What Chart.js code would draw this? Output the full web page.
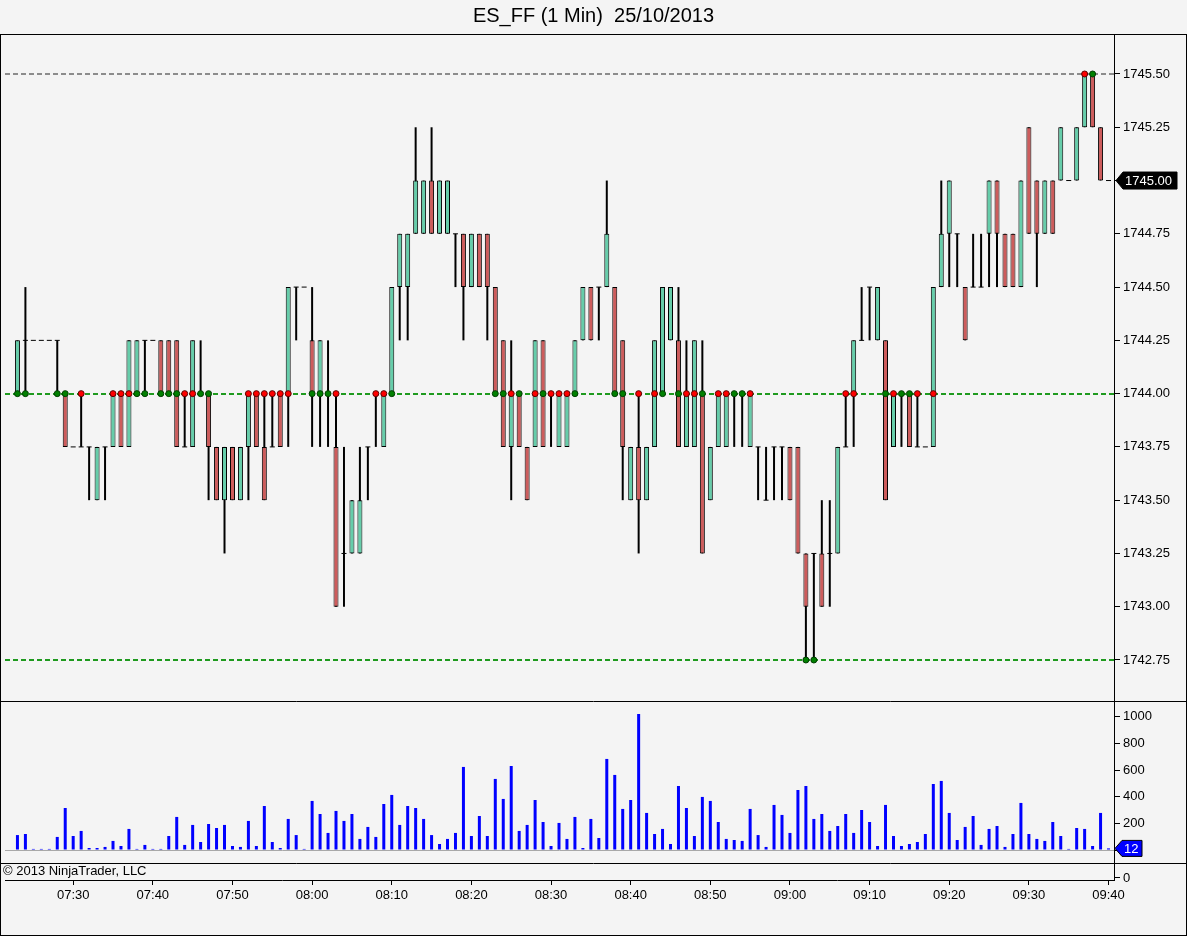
<!DOCTYPE html>
<html>
<head>
<meta charset="utf-8">
<title>ES_FF (1 Min) 25/10/2013</title>
<script src="https://cdn.jsdelivr.net/npm/chart.js@4.4.1/dist/chart.umd.min.js"></script>
<style>
  html, body { margin: 0; padding: 0; background: #f4f4f4; }
  #wrap { position: relative; width: 1187px; height: 936px; }
</style>
</head>
<body>
<div id="wrap"><canvas id="esChart"></canvas></div>
<script>
// Time axis: one bar per minute, first bar 07:23, last bar 09:40
const timeTickBars = [7, 17, 27, 37, 47, 57, 67, 77, 87, 97, 107, 117, 127, 137];
const timeTickLabels = ['07:30', '07:40', '07:50', '08:00', '08:10', '08:20', '08:30',
                        '08:40', '08:50', '09:00', '09:10', '09:20', '09:30', '09:40'];

// OHLC of the 138 one-minute bars
const opens = [
  1744.00,1744.25,1744.25,1744.25,1744.25,1744.25,1744.00,1743.75,1743.75,1743.75,
  1743.50,1743.75,1743.75,1744.00,1743.75,1744.00,1744.25,1744.25,1744.25,1744.25,
  1744.25,1743.75,1743.75,1744.00,1744.00,1743.75,1743.50,1743.75,1743.50,1743.75,
  1744.00,1743.75,1743.75,1744.00,1744.00,1744.50,1744.50,1744.25,1744.00,1744.00,
  1743.75,1743.25,1743.25,1743.25,1743.75,1744.00,1743.75,1744.00,1744.50,1744.50,
  1744.75,1744.75,1745.00,1744.75,1744.75,1744.75,1744.75,1744.50,1744.75,1744.75,
  1744.50,1744.25,1743.75,1744.00,1743.75,1743.75,1744.25,1744.00,1743.75,1743.75,
  1744.00,1744.25,1744.50,1744.50,1744.50,1744.50,1744.25,1743.50,1743.75,1743.50,
  1743.75,1744.00,1744.25,1744.25,1743.75,1743.75,1744.00,1743.50,1743.75,1743.75,
  1744.00,1744.00,1743.75,1743.75,1743.50,1743.75,1743.75,1743.75,1743.75,1743.25,
  1743.25,1743.25,1743.25,1743.25,1743.75,1744.00,1744.25,1744.50,1744.25,1744.25,
  1743.75,1744.00,1744.00,1743.75,1743.75,1743.75,1744.50,1744.75,1744.75,1744.50,
  1744.50,1744.50,1744.75,1745.00,1744.75,1744.75,1744.50,1745.25,1745.00,1744.75,
  1745.00,1745.00,1745.00,1745.00,1745.25,1745.50,1745.25,1745.00
];
const highs = [
  1744.25,1744.50,1744.25,1744.25,1744.25,1744.25,1744.00,1743.75,1744.00,1743.75,
  1743.75,1743.75,1744.00,1744.00,1744.25,1744.25,1744.25,1744.25,1744.25,1744.25,
  1744.25,1744.00,1744.25,1744.25,1744.00,1743.75,1743.75,1743.75,1743.75,1744.00,
  1744.00,1744.00,1744.00,1744.00,1744.50,1744.50,1744.50,1744.50,1744.25,1744.25,
  1744.00,1743.75,1743.50,1743.75,1743.75,1744.00,1744.00,1744.50,1744.75,1744.75,
  1745.25,1745.00,1745.25,1745.00,1745.00,1744.75,1744.75,1744.75,1744.75,1744.75,
  1744.50,1744.25,1744.25,1744.00,1743.75,1744.25,1744.25,1744.00,1744.00,1744.00,
  1744.25,1744.50,1744.50,1744.50,1745.00,1744.50,1744.25,1743.75,1744.00,1743.75,
  1744.25,1744.50,1744.50,1744.50,1744.25,1744.25,1744.25,1743.75,1744.00,1744.00,
  1744.00,1744.00,1744.00,1743.75,1743.75,1743.75,1743.75,1743.75,1743.75,1743.25,
  1743.25,1743.50,1743.50,1743.75,1744.00,1744.25,1744.50,1744.50,1744.50,1744.25,
  1744.00,1744.00,1744.00,1744.00,1743.75,1744.50,1745.00,1745.00,1744.75,1744.50,
  1744.75,1744.75,1745.00,1745.00,1744.75,1744.75,1745.00,1745.25,1745.00,1745.00,
  1745.00,1745.25,1745.00,1745.25,1745.50,1745.50,1745.25,1745.00
];
const lows = [
  1744.00,1744.00,1744.25,1744.25,1744.25,1744.00,1743.75,1743.75,1743.75,1743.50,
  1743.50,1743.50,1743.75,1743.75,1743.75,1744.00,1744.00,1744.25,1744.00,1744.00,
  1743.75,1743.75,1743.75,1744.00,1743.50,1743.50,1743.25,1743.50,1743.50,1743.50,
  1743.75,1743.50,1743.75,1743.75,1743.75,1744.25,1744.50,1743.75,1743.75,1743.75,
  1743.00,1743.00,1743.25,1743.25,1743.50,1743.75,1743.75,1744.00,1744.25,1744.25,
  1744.75,1744.75,1744.75,1744.75,1744.75,1744.50,1744.25,1744.50,1744.50,1744.25,
  1744.00,1743.75,1743.50,1743.75,1743.50,1743.75,1743.75,1743.75,1743.75,1743.75,
  1744.00,1744.25,1744.25,1744.25,1744.50,1744.00,1743.50,1743.50,1743.25,1743.50,
  1743.75,1744.00,1744.25,1743.75,1743.75,1743.75,1743.25,1743.50,1743.75,1743.75,
  1743.75,1743.75,1743.75,1743.50,1743.50,1743.50,1743.50,1743.50,1743.25,1742.75,
  1742.75,1743.00,1743.00,1743.25,1743.75,1743.75,1744.25,1744.25,1744.25,1743.50,
  1743.75,1743.75,1743.75,1743.75,1743.75,1743.75,1744.50,1744.50,1744.50,1744.25,
  1744.50,1744.50,1744.50,1744.50,1744.50,1744.50,1744.50,1744.75,1744.50,1744.75,
  1744.75,1745.00,1745.00,1745.00,1745.25,1745.25,1745.00,1745.00
];
const closes = [
  1744.25,1744.25,1744.25,1744.25,1744.25,1744.25,1743.75,1743.75,1743.75,1743.75,
  1743.75,1743.75,1744.00,1743.75,1744.25,1744.25,1744.25,1744.25,1744.00,1744.00,
  1743.75,1743.75,1744.25,1744.00,1743.75,1743.50,1743.75,1743.50,1743.75,1744.00,
  1743.75,1743.50,1743.75,1743.75,1744.50,1744.50,1744.50,1744.00,1744.25,1744.00,
  1743.00,1743.25,1743.50,1743.50,1743.75,1744.00,1744.00,1744.50,1744.75,1744.75,
  1745.00,1745.00,1744.75,1745.00,1745.00,1744.75,1744.50,1744.75,1744.50,1744.50,
  1744.00,1743.75,1744.00,1743.75,1743.50,1744.25,1743.75,1744.00,1744.00,1744.00,
  1744.25,1744.50,1744.25,1744.50,1744.75,1744.00,1743.75,1743.75,1743.50,1743.75,
  1744.25,1744.50,1744.50,1743.75,1744.00,1744.25,1743.25,1743.75,1744.00,1744.00,
  1744.00,1744.00,1744.00,1743.75,1743.50,1743.75,1743.75,1743.50,1743.25,1743.00,
  1743.25,1743.00,1743.25,1743.75,1743.75,1744.25,1744.25,1744.50,1744.50,1743.50,
  1744.00,1744.00,1743.75,1743.75,1743.75,1744.50,1744.75,1745.00,1744.75,1744.25,
  1744.50,1744.50,1745.00,1744.75,1744.50,1744.50,1745.00,1744.75,1744.75,1745.00,
  1744.75,1745.25,1745.00,1745.25,1745.50,1745.25,1745.00,1745.00
];

// Volume per bar
const volumes = [
  112,120,8,8,8,98,315,105,143,15,
  15,23,68,30,158,8,38,8,8,105,
  248,38,188,60,195,165,188,30,23,218,
  30,330,60,15,233,112,8,368,270,128,
  293,218,270,83,173,98,345,413,188,330,
  315,233,112,45,83,128,623,105,255,105,
  533,383,630,143,188,375,210,30,203,83,
  248,15,233,90,683,563,308,375,1020,278,
  120,158,45,480,315,105,398,368,210,83,
  75,68,308,112,23,338,263,128,450,480,
  233,270,143,180,270,128,300,210,30,338,
  105,30,45,60,120,495,518,278,75,173,
  255,38,158,180,23,120,353,120,83,68,
  210,105,8,165,158,30,278,12
];

// Horizontal levels (session high, pivot, session low) and touch markers
const levelPrices = [1745.50, 1744.00, 1742.75];
const levelColors = ['#8c8c8c', '#1f9a1f', '#1f9a1f'];
const greenDots = [0,1,5,6,15,16,18,19,20,23,24,37,38,39,47,60,61,63,66,70,75,76,81,83,86,90,91,99,100,109,111,112,135];
const redDots = [8,12,13,14,21,22,29,30,31,32,33,34,40,45,46,62,65,67,68,69,78,80,84,85,88,89,92,104,105,110,113,115,134];

// Axis ticks
const priceTicks = [1742.75,1743.00,1743.25,1743.50,1743.75,1744.00,1744.25,1744.50,1744.75,1745.00,1745.25,1745.50];
const volumeTicks = [0, 200, 400, 600, 800, 1000];

const upColor = '#66cdaa';
const downColor = '#cd5c5c';
const fontFamily = '"Liberation Sans", Arial, sans-serif';

// Build datasets from the arrays
const wickData = [];
const bodyData = [];
const dojiData = [];
const volumeData = [];
for (let i = 0; i < opens.length; i++) {
    wickData.push({ x: i, y: [lows[i], highs[i]] });
    if (opens[i] === closes[i]) {
        dojiData.push({ x: i, y: opens[i] });
    } else {
        bodyData.push({ x: i, y: [opens[i], closes[i]], up: closes[i] > opens[i] });
    }
    volumeData.push({ x: i, y: volumes[i] });
}

function levelFor(i) {
    return levelPrices.find(p => lows[i] <= p && p <= highs[i]);
}
const dotData = [];
greenDots.forEach(i => dotData.push({ x: i, y: levelFor(i), g: true }));
redDots.forEach(i => dotData.push({ x: i, y: levelFor(i), g: false }));

// Tag on the right axis (last price / last volume)
function drawTag(ctx, x, y, w, h, fill, text) {
    ctx.beginPath();
    ctx.moveTo(x, y);
    ctx.lineTo(x + 7, y - h / 2);
    ctx.lineTo(x + w, y - h / 2);
    ctx.lineTo(x + w, y + h / 2);
    ctx.lineTo(x + 7, y + h / 2);
    ctx.closePath();
    ctx.fillStyle = fill;
    ctx.fill();
    ctx.lineWidth = 1;
    ctx.strokeStyle = '#000';
    ctx.stroke();
    ctx.fillStyle = '#fff';
    ctx.font = '13px ' + fontFamily;
    ctx.textAlign = 'left';
    ctx.textBaseline = 'middle';
    ctx.fillText(text, x + 9, y + 1);
}

const panelPlugin = {
    id: 'panelPlugin',
    beforeDatasetsDraw(chart) {
        const ctx = chart.ctx;
        const area = chart.chartArea;
        const y = chart.scales.y;
        const yv = chart.scales.yv;
        ctx.save();
        // dashed level lines
        ctx.lineWidth = 2;
        ctx.setLineDash([5, 3]);
        levelPrices.forEach((p, k) => {
            const py = Math.round(y.getPixelForValue(p));
            ctx.strokeStyle = levelColors[k];
            ctx.beginPath();
            ctx.moveTo(area.left, py);
            ctx.lineTo(area.right, py);
            ctx.stroke();
        });
        // volume zero line
        ctx.setLineDash([]);
        ctx.lineWidth = 1;
        ctx.strokeStyle = '#a8a8a8';
        const zy = Math.round(yv.getPixelForValue(0)) + 0.5;
        ctx.beginPath();
        ctx.moveTo(area.left, zy);
        ctx.lineTo(area.right, zy);
        ctx.stroke();
        ctx.restore();
    },
    afterDraw(chart) {
        const ctx = chart.ctx;
        const area = chart.chartArea;
        const y = chart.scales.y;
        const yv = chart.scales.yv;
        const W = chart.width;
        const H = chart.height;
        ctx.save();
        ctx.strokeStyle = '#000';
        ctx.lineWidth = 1;
        // outer frame
        ctx.strokeRect(0.5, area.top + 0.5, W - 1, H - area.top - 1);
        // panel separators: price | volume | copyright strip
        const sep1 = Math.round(yv.top) + 0.5;
        const sep2 = Math.round(yv.getPixelForValue(-100)) + 0.5;
        [sep1, sep2].forEach(sy => {
            ctx.beginPath();
            ctx.moveTo(0, sy);
            ctx.lineTo(W, sy);
            ctx.stroke();
        });
        // copyright
        ctx.fillStyle = '#000';
        ctx.font = '13px ' + fontFamily;
        ctx.textAlign = 'left';
        ctx.textBaseline = 'middle';
        ctx.fillText('\u00A9 2013 NinjaTrader, LLC', 3, (sep2 + area.bottom) / 2);
        // bottom "0" of the volume axis
        ctx.beginPath();
        ctx.moveTo(area.right, area.bottom - 2.5);
        ctx.lineTo(area.right + 6, area.bottom - 2.5);
        ctx.stroke();
        ctx.fillText('0', area.right + 9, area.bottom - 2);
        // last price and last volume tags
        const last = closes.length - 1;
        drawTag(ctx, area.right + 2, y.getPixelForValue(closes[last]), 61, 17, '#000', closes[last].toFixed(2));
        drawTag(ctx, area.right + 1, yv.getPixelForValue(volumes[last]), 27, 16, '#0000ff', String(volumes[last]));
        ctx.restore();
    }
};

Chart.defaults.font.family = fontFamily;
Chart.defaults.font.size = 13;
Chart.defaults.color = '#000';

const ctx = document.getElementById('esChart').getContext('2d');
const esChart = new Chart(ctx, {
    type: 'bar',
    data: {
        datasets: [
            {
                type: 'scatter',
                label: 'Level touch',
                data: dotData,
                yAxisID: 'y',
                order: 0,
                pointStyle: 'circle',
                pointRadius: 3,
                borderWidth: 1,
                backgroundColor: c => (c.raw && c.raw.g) ? '#008000' : '#ff0000',
                borderColor: c => (c.raw && c.raw.g) ? '#003c00' : '#5a0000'
            },
            {
                type: 'scatter',
                label: 'Doji',
                data: dojiData,
                yAxisID: 'y',
                order: 1,
                pointStyle: 'line',
                pointRadius: 2.5,
                borderWidth: 1,
                borderColor: '#000'
            },
            {
                label: 'Body',
                data: bodyData,
                yAxisID: 'y',
                order: 2,
                grouped: false,
                barThickness: 5,
                borderWidth: 1,
                borderSkipped: false,
                inflateAmount: 0,
                borderColor: '#000',
                backgroundColor: c => (c.raw && c.raw.up) ? upColor : downColor
            },
            {
                label: 'Wick',
                data: wickData,
                yAxisID: 'y',
                order: 3,
                grouped: false,
                barThickness: 2,
                inflateAmount: 0,
                backgroundColor: '#000'
            },
            {
                label: 'Volume',
                data: volumeData,
                yAxisID: 'yv',
                order: 4,
                grouped: false,
                barThickness: 3,
                inflateAmount: 0,
                backgroundColor: '#0000ff'
            }
        ]
    },
    options: {
        responsive: true,
        maintainAspectRatio: false,
        animation: false,
        events: [],
        layout: { padding: 0 },
        plugins: {
            legend: { display: false },
            tooltip: { enabled: false },
            title: {
                display: true,
                text: 'ES_FF (1 Min)  25/10/2013',
                color: '#000',
                font: { size: 20, weight: 'normal' },
                padding: { top: 4, bottom: 6 }
            }
        },
        scales: {
            x: {
                type: 'linear',
                min: -1.5625,
                max: 137.6875,
                offset: false,
                bounds: 'data',
                afterBuildTicks: s => { s.ticks = timeTickBars.map(v => ({ value: v })); },
                afterFit: s => { s.height = 56; },
                ticks: {
                    autoSkip: false,
                    maxRotation: 0,
                    padding: 3,
                    callback: v => timeTickLabels[timeTickBars.indexOf(v)]
                },
                grid: { drawOnChartArea: false, offset: false, tickLength: 5, color: '#000' },
                border: { display: true, color: '#000' }
            },
            // price panel: top part of the right-hand stack
            y: {
                type: 'linear',
                position: 'right',
                stack: 'panels',
                stackWeight: 667,
                weight: 0,
                min: 1742.55759,
                max: 1745.68771,
                bounds: 'data',
                afterBuildTicks: s => { s.ticks = priceTicks.map(v => ({ value: v })); },
                afterFit: s => { s.width = 73; },
                ticks: { padding: 3, callback: v => v.toFixed(2) },
                grid: { drawOnChartArea: false, tickLength: 6, color: '#000' },
                border: { display: true, color: '#000' }
            },
            // volume panel: bottom part of the stack
            yv: {
                type: 'linear',
                position: 'right',
                stack: 'panels',
                stackWeight: 179,
                weight: 1,
                min: -225,
                max: 1117.5,
                bounds: 'data',
                afterBuildTicks: s => { s.ticks = volumeTicks.map(v => ({ value: v })); },
                afterFit: s => { s.width = 73; },
                ticks: { padding: 3, callback: v => String(v) },
                grid: { drawOnChartArea: false, tickLength: 6, color: '#000' },
                border: { display: true, color: '#000' }
            }
        }
    },
    plugins: [panelPlugin]
});
</script>
</body>
</html>
